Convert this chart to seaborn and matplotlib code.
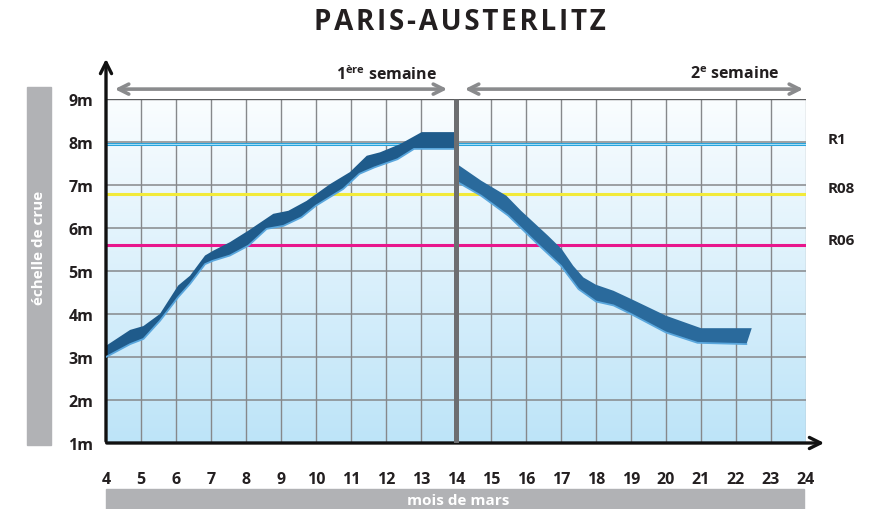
import numpy as np
import pandas as pd
import seaborn as sns
import matplotlib.pyplot as plt
from matplotlib.patches import Rectangle
from matplotlib.colors import LinearSegmentedColormap

# niveaux (bord haut / bord bas de la bande)
sem1_x_haut = [4.0, 4.69, 5.07, 5.54, 6.06, 6.4, 6.83, 7.06, 7.54, 8.07, 8.78, 9.21, 9.73, 10.4, 10.97, 11.45, 11.83, 12.4, 13.02, 14.0]
sem1_haut = [3.26, 3.63, 3.72, 4.0, 4.66, 4.89, 5.36, 5.47, 5.67, 5.94, 6.33, 6.40, 6.63, 7.02, 7.30, 7.68, 7.76, 7.95, 8.23, 8.23]
sem1_x_bas = [4.0, 4.69, 5.07, 5.54, 6.06, 6.4, 6.83, 7.06, 7.54, 8.07, 8.59, 9.07, 9.59, 10.0, 10.78, 11.24, 11.67, 12.33, 12.8, 14.0]
sem1_bas = [3.0, 3.30, 3.42, 3.84, 4.39, 4.70, 5.16, 5.24, 5.36, 5.59, 5.98, 6.05, 6.25, 6.52, 6.91, 7.26, 7.41, 7.60, 7.84, 7.84]

sem2_x_haut = [14.06, 14.72, 15.44, 15.86, 16.63, 17.02, 17.35, 17.64, 18.0, 18.5, 19.0, 20.0, 21.0, 22.45]
sem2_haut = [7.47, 7.10, 6.75, 6.40, 5.82, 5.51, 5.12, 4.85, 4.68, 4.54, 4.35, 3.96, 3.67, 3.67]
sem2_x_bas = [14.06, 14.72, 15.49, 16.38, 17.0, 17.5, 18.0, 18.5, 19.0, 20.0, 20.9, 22.3]
sem2_bas = [7.06, 6.75, 6.29, 5.59, 5.12, 4.58, 4.29, 4.20, 4.00, 3.57, 3.33, 3.30]

# repères de crue
reperes = ["R1", "R08", "R06"]
reperes_niveau = [7.95, 6.80, 5.60]
reperes_couleur = ["#29a3dc", "#f2ea3a", "#e8168c"]

jours = list(range(4, 25))
metres = list(range(1, 10))
semaines = ["1$^{\\mathregular{ère}}$ semaine", "2$^{\\mathregular{e}}$ semaine"]
titre = "PARIS-AUSTERLITZ"

sns.set_theme(style="white")
plt.rcParams["font.family"] = ["Open Sans", "DejaVu Sans"]
plt.rcParams["mathtext.fontset"] = "custom"
plt.rcParams["mathtext.rm"] = "Open Sans:bold"

fig = plt.figure(figsize=(8.77, 5.10), dpi=100)
ax = fig.add_axes([106 / 877, 66 / 510, 700 / 877, 344 / 510])
ax.set_xlim(4, 24)
ax.set_ylim(1, 9)

# fond en dégradé
grad = np.linspace(0, 1, 256).reshape(-1, 1)
cmap = LinearSegmentedColormap.from_list("eau", ["#bde4f8", "#fafdff"])
ax.imshow(grad, extent=[4, 24, 1, 9], origin="lower", cmap=cmap, aspect="auto", zorder=0)

# quadrillage
for j in jours[1:-1]:
    ax.axvline(j, color="#86888b", lw=1.0, zorder=1)
ax.axvline(24, color="#b5b6b8", lw=1.0, zorder=1)
for m in metres[1:-1]:
    ax.axhline(m, color="#86888b", lw=1.1, zorder=1)
ax.axhline(9, color="#5b5c5e", lw=1.0, zorder=1)

# repères
for nom, niv, coul in zip(reperes, reperes_niveau, reperes_couleur):
    ax.axhline(niv, color=coul, lw=2.2, zorder=2)
    if nom == "R1":
        ax.axhline(niv, color="#a8e0f7", lw=0.7, zorder=2)
    ax.text(24.63, niv + 0.12, nom, fontsize=11, fontweight="bold", color="#231f20", va="center", ha="left")

# bandes de crue
ax.fill(sem1_x_haut + sem1_x_bas[::-1], sem1_haut + sem1_bas[::-1], color="#1f5b8b", lw=0, zorder=3)
ax.fill(sem2_x_haut + sem2_x_bas[::-1], sem2_haut + sem2_bas[::-1], color="#2a6a9c", lw=0, zorder=3)
bords = pd.concat([
    pd.DataFrame({"x": sem1_x_bas, "y": sem1_bas, "serie": "s1"}),
    pd.DataFrame({"x": sem2_x_bas, "y": sem2_bas, "serie": "s2"}),
])
sns.lineplot(data=bords, x="x", y="y", units="serie", estimator=None, sort=False,
             color="#5aa7dd", lw=1.3, ax=ax, zorder=4)

# séparation des semaines
ax.plot([14, 14], [1, 9], color="#6d6e71", lw=3.6, zorder=5, solid_capstyle="butt")

# flèches des semaines
ax.annotate("", xy=(4.17, 9.23), xytext=(13.83, 9.23), arrowprops=dict(arrowstyle="<->", color="#8a8b8d", lw=2.6, mutation_scale=18), annotation_clip=False)
ax.annotate("", xy=(14.17, 9.23), xytext=(24.0, 9.23), arrowprops=dict(arrowstyle="<->", color="#8a8b8d", lw=2.6, mutation_scale=18), annotation_clip=False)
ax.text(13.46, 9.58, semaines[0], fontsize=11.5, fontweight="bold", color="#231f20", ha="right", va="center")
ax.text(23.23, 9.58, semaines[1], fontsize=11.5, fontweight="bold", color="#231f20", ha="right", va="center")

# axes avec flèches
for s in ax.spines.values():
    s.set_visible(False)
ax.annotate("", xy=(0, 1.125), xytext=(0, -0.003), xycoords="axes fraction", arrowprops=dict(arrowstyle="->", color="#111111", lw=2.4, mutation_scale=20), annotation_clip=False)
ax.annotate("", xy=(1.03, 0), xytext=(-0.003, 0), xycoords="axes fraction", arrowprops=dict(arrowstyle="->", color="#111111", lw=2.4, mutation_scale=20), annotation_clip=False)

ax.set_xticks(jours)
ax.set_xticklabels([str(j) for j in jours], fontsize=11.5, fontweight="bold", color="#231f20")
ax.set_yticks(metres)
ax.set_yticklabels([f"{m}m" for m in metres], fontsize=11.5, fontweight="bold", color="#231f20")
ax.tick_params(axis="x", length=0, pad=20)
ax.tick_params(axis="y", length=0, pad=9)
ax.set_xlabel("")
ax.set_ylabel("")

# cadres gris des titres d'axes
fig.patches.append(Rectangle((27 / 877, 64 / 510), 24 / 877, 358 / 510, transform=fig.transFigure, color="#b1b2b5", zorder=0))
fig.text(39 / 877, 262 / 510, "échelle de crue", rotation=90, color="white", fontsize=11, fontweight="bold", ha="center", va="center")
fig.patches.append(Rectangle((106 / 877, 0), 698 / 877, 20 / 510, transform=fig.transFigure, color="#b1b2b5", zorder=0))
fig.text(458 / 877, 9 / 510, "mois de mars", color="white", fontsize=11, fontweight="bold", ha="center", va="center")

fig.text(460 / 877, 487 / 510, "\u200a".join(titre), fontsize=20, fontweight="bold", color="#231f20", ha="center", va="center")

plt.savefig("out.png", dpi=100)
plt.close()
